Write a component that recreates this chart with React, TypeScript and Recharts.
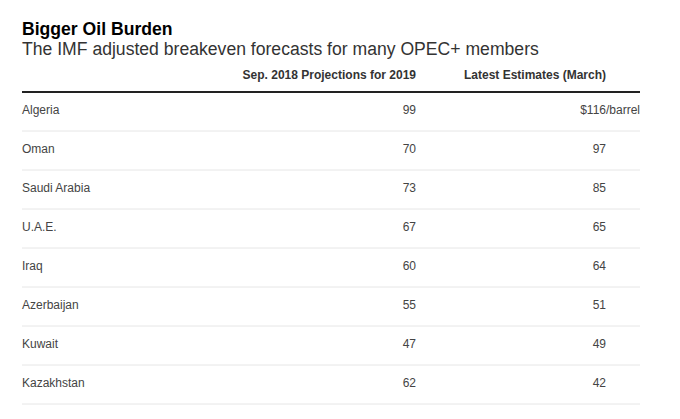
import React from "react";
import { ScatterChart, Scatter, XAxis, YAxis, CartesianGrid } from "recharts";

const title = "Bigger Oil Burden";
const subtitle = "The IMF adjusted breakeven forecasts for many OPEC+ members";
const columnLabels = ["Sep. 2018 Projections for 2019", "Latest Estimates (March)"];
const countries = ["Algeria", "Oman", "Saudi Arabia", "U.A.E.", "Iraq", "Azerbaijan", "Kuwait", "Kazakhstan"];
const sep2018Projections = [99, 70, 73, 67, 60, 55, 47, 62];
const latestEstimates = [116, 97, 85, 65, 64, 51, 49, 42];
const firstRowPrefix = "$";
const firstRowSuffix = "/barrel";

const FONT = '"Liberation Sans", Arial, Helvetica, sans-serif';

const sepPoints = countries.map((country, i) => ({
  column: columnLabels[0],
  country,
  value: sep2018Projections[i],
  row: i,
}));
const latestPoints = countries.map((country, i) => ({
  column: columnLabels[1],
  country,
  value: latestEstimates[i],
  row: i,
}));

const textStyle = { fontFamily: FONT, fontSize: 12, fill: "#444" };

const CellText = (props: any) => {
  const { cx, cy, payload } = props;
  if (cx == null || cy == null || !payload) return null;
  if (payload.row === 0 && payload.column === columnLabels[1]) {
    return (
      <g>
        <text x={cx} y={cy} dy={2} textAnchor="end" {...textStyle}>
          {firstRowPrefix + payload.value}
        </text>
        <text x={cx} y={cy} dy={2} textAnchor="start" {...textStyle}>
          {firstRowSuffix}
        </text>
      </g>
    );
  }
  return (
    <text x={cx} y={cy} dy={2} textAnchor="end" {...textStyle}>
      {payload.value}
    </text>
  );
};

const CountryTick = (props: any) => {
  const { x, y, payload } = props;
  return (
    <text x={x} y={y} dy={2} textAnchor="start" {...textStyle}>
      {payload.value}
    </text>
  );
};

const HeaderTick = (props: any) => {
  const { x, y, payload } = props;
  return (
    <text x={x} y={y} dy={-13} textAnchor="end" fontFamily={FONT} fontSize={12} fontWeight={700} fill="#333">
      {payload.value}
    </text>
  );
};

export default function App() {
  return (
    <div style={{ position: "absolute", left: 0, top: 0, width: 680, height: 419, background: "#fff" }}>
      <svg width={680} height={60} style={{ position: "absolute", left: 0, top: 0 }}>
        <text x={22} y={35} fontFamily={FONT} fontSize={17.6} fontWeight="bold" fill="#000">
          {title}
        </text>
        <text x={22} y={55} fontFamily={FONT} fontSize={17.6} fill="#333">
          {subtitle}
        </text>
      </svg>
      <div style={{ position: "absolute", left: 0, top: 0, width: 640, height: 419, overflow: "hidden" }}>
        <ScatterChart width={640} height={419} margin={{ top: 62, right: 0, bottom: 15, left: 12 }}>
          <CartesianGrid
            vertical={false}
            stroke="#e6e6e6"
            horizontalCoordinatesGenerator={({ offset }: any) =>
              countries.map((_, i) => offset.top + ((i + 1) * offset.height) / countries.length)
            }
          />
          <XAxis
            dataKey="column"
            type="category"
            scale="point"
            orientation="top"
            allowDuplicatedCategory={false}
            ticks={columnLabels}
            padding={{ left: 394, right: 34 }}
            height={30}
            axisLine={{ stroke: "#222", strokeWidth: 2 }}
            tickLine={false}
            tickSize={0}
            tickMargin={0}
            interval={0}
            tick={<HeaderTick />}
          />
          <YAxis
            dataKey="country"
            type="category"
            scale="point"
            reversed
            allowDuplicatedCategory={false}
            ticks={countries}
            padding={{ top: 19.5, bottom: 19.5 }}
            width={10}
            axisLine={false}
            tickLine={false}
            tickSize={0}
            tickMargin={0}
            interval={0}
            tick={<CountryTick />}
          />
          <Scatter data={sepPoints} shape={<CellText />} isAnimationActive={false} />
          <Scatter data={latestPoints} shape={<CellText />} isAnimationActive={false} />
        </ScatterChart>
      </div>
    </div>
  );
}
